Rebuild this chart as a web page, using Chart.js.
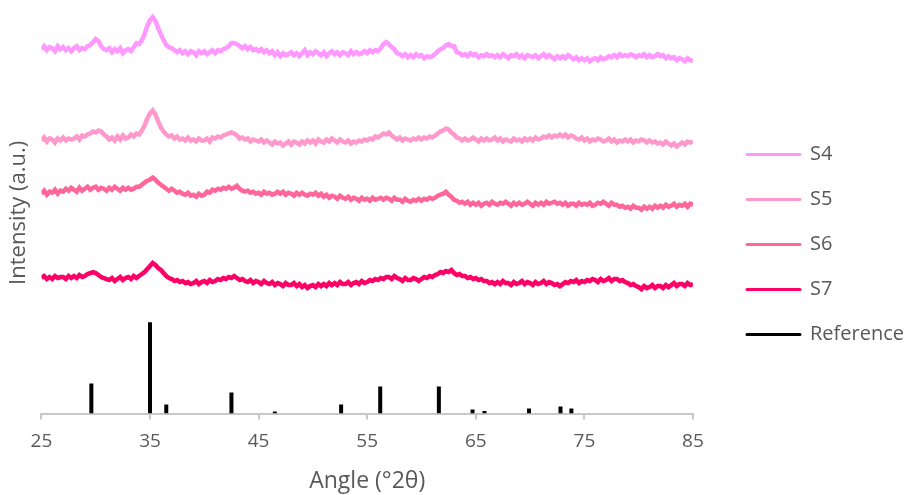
<!DOCTYPE html>
<html>
<head>
<meta charset="utf-8">
<script src="https://cdn.jsdelivr.net/npm/chart.js@4.4.1/dist/chart.umd.min.js"></script>
<style>
  html, body { margin: 0; padding: 0; background: #ffffff; }
  #wrap { width: 906px; height: 495px; position: relative; }
</style>
</head>
<body>
<div id="wrap"><canvas id="c" width="906" height="495"></canvas></div>
<script>
// ---- data (y in relative intensity units) ----
const ANGLE_START = 25;      // first scan angle (°2θ)
const ANGLE_STEP = 0.25;     // scan step (°2θ)
const X_TICKS = [25, 35, 45, 55, 65, 75, 85];
const SERIES_NAMES = ['S4', 'S5', 'S6', 'S7', 'Reference'];

const S4 = [
363,366,362,365, 364,361,366,363, 365,362,364,361, 364,366,362,364, 363,366,367,370,
373,371,366,363, 362,364,360,363, 361,364,359,362, 363,361,365,369, 368,372,378,386,
392,395,391,384, 378,372,367,365, 364,362,360,362, 359,361,358,361, 360,357,361,359,
361,358,360,362, 359,362,361,363, 364,366,369,369, 368,366,364,366, 363,365,362,363,
361,363,360,362, 359,361,357,360, 356,359,357,358, 360,357,359,356, 359,362,357,360,
358,361,359,357, 360,356,359,361, 358,360,357,360, 359,357,361,358, 360,358,359,361,
359,362,360,362, 361,364,368,370, 368,365,363,359, 358,356,358,355, 357,355,358,356,
357,354,356,355, 356,358,361,363, 364,367,368,366, 366,360,359,357, 358,356,359,357,
358,355,357,356, 358,356,357,355, 357,355,358,356, 354,357,356,358, 355,357,354,357,
356,355,357,354, 356,358,355,357, 355,353,356,354, 356,354,357,355, 353,355,352,354,
352,354,351,353, 354,352,355,353, 354,356,355,357, 355,358,356,357, 356,358,357,355,
357,356,358,355, 357,355,356,358, 356,357,354,356, 354,355,352,354, 353,351,354,352,
351];

const S5 = [
272,275,271,274, 273,270,274,272, 275,272,274,273, 274,276,273,277, 276,278,279,281,
280,282,281,278, 276,273,275,272, 276,273,277,274, 275,278,276,279, 278,282,287,294,
299,302,298,291, 285,281,278,276, 277,274,276,273, 274,272,275,272, 273,271,274,272,
272,274,271,275, 274,276,275,277, 278,279,280,279, 277,274,275,273, 274,271,273,272,
271,273,270,272, 270,268,271,269, 270,267,269,271, 268,271,270,268, 271,269,272,270,
272,269,273,271, 270,273,271,274, 272,270,273,271, 270,272,269,271, 270,272,271,273,
272,274,273,276, 275,277,279,278, 280,277,275,273, 275,272,274,273, 272,274,273,275,
273,275,274,276, 275,277,279,281, 282,284,283,280, 278,275,274,272, 274,272,273,275,
273,271,274,272, 274,272,273,275, 272,274,271,273, 272,271,274,272, 273,271,274,272,
274,272,275,273, 274,276,275,277, 275,277,276,278, 276,278,275,277, 276,274,273,275,
272,274,271,273, 272,274,273,271, 272,274,271,273, 270,272,271,273, 271,273,270,272,
271,273,272,270, 272,270,271,269, 270,268,271,269, 267,269,266,268, 270,268,271,270,
271];

const S6 = [
219,222,218,221, 220,223,219,222, 221,224,222,225, 223,221,225,222, 224,226,223,225,
226,223,225,224, 222,225,223,226, 224,222,225,223, 225,223,224,226, 226,228,230,232,
233,235,233,230, 228,226,224,222, 224,222,220,221, 219,218,220,217, 218,216,219,217,
218,221,220,223, 222,224,223,225, 224,226,224,225, 227,224,222,221, 222,220,221,219,
220,218,221,219, 220,218,219,221, 219,221,218,220, 219,217,220,218, 220,218,217,219,
218,220,217,219, 216,218,215,217, 216,214,217,215, 214,216,213,215, 214,212,215,213,
214,212,215,213, 214,215,213,215, 214,212,215,213, 213,211,214,212, 211,213,212,214,
212,214,213,215, 214,215,217,218, 219,221,218,216, 213,212,210,211, 209,211,208,210,
208,210,207,209, 210,208,211,209, 208,210,209,211, 209,207,210,208, 210,208,209,211,
209,207,210,208, 210,208,211,209, 210,211,209,210, 208,210,207,209, 209,207,210,208,
209,208,210,207, 208,210,209,211, 209,207,210,208, 208,206,207,205, 206,204,207,205,
205,203,206,204, 206,204,207,205, 207,205,208,206, 207,209,206,208, 207,209,206,209,
208];

const S7 = [
135,137,134,136, 134,137,135,136, 136,134,137,135, 137,135,138,136, 137,139,140,141,
140,138,136,135, 134,133,135,132, 134,136,133,135, 136,134,137,135, 137,139,141,144,
147,150,148,145, 143,140,137,135, 134,132,133,131, 132,130,131,129, 130,132,129,131,
132,130,133,131, 132,134,133,135, 134,136,135,137, 135,133,134,132, 131,133,130,132,
131,129,132,130, 129,131,128,130, 129,127,130,128, 128,130,127,129, 126,128,125,127,
128,126,129,127, 129,127,130,128, 130,128,131,129, 129,131,128,130, 131,129,132,130,
131,133,132,134, 133,135,134,136, 136,134,137,135, 134,132,135,133, 133,135,134,132,
134,136,135,137, 136,138,139,141, 140,142,141,143, 140,138,139,137, 137,135,136,134,
135,133,134,132, 132,130,131,129, 131,129,132,130, 130,128,131,129, 130,132,129,131,
130,128,131,129, 130,132,129,131, 130,128,129,127, 129,131,130,132, 131,133,130,132,
131,133,132,134, 133,131,134,132, 133,135,132,134, 134,132,133,131, 130,128,129,127,
126,124,127,125, 126,128,125,127, 127,125,128,126, 128,130,127,129, 129,127,130,128,
129];

// Reference pattern: peak positions (°2θ) and relative intensities
const REF_ANGLES  = [29.6, 35.0, 36.5, 42.5, 46.5, 52.6, 56.2, 61.6, 64.7, 65.8, 69.9, 72.8, 73.8];
const REF_HEIGHTS = [30,   91,   9,    21,   2,    9,    27,   27,   4,    2.5,  5,    7,    5];

// ---- build library data from the arrays ----
function toXY(arr) {
  return arr.map((v, i) => ({ x: ANGLE_START + i * ANGLE_STEP, y: v }));
}
function refSticks() {
  const out = [];
  REF_ANGLES.forEach((a, i) => {
    out.push({ x: a, y: 0 });
    out.push({ x: a, y: REF_HEIGHTS[i] });
    out.push({ x: a, y: null });
  });
  return out;
}

const COLORS = ['#FF99FF', '#FF99CC', '#FF6699', '#FF0066', '#000000'];
const FONT = "'Open Sans', 'Noto Sans', sans-serif";
const TXT = '#595959';
const LEG_DX = 29, LEG_DY = -9;

const lineDs = (label, arr, color) => ({
  label, data: toXY(arr), borderColor: color, backgroundColor: color,
  borderWidth: 4.5, pointRadius: 0, tension: 0, fill: false
});

// shift the legend block to the reference's position
const legendShift = {
  id: 'legendShift',
  afterLayout(chart) {
    const lg = chart.legend;
    if (!lg) return;
    lg.left += LEG_DX; lg.right += LEG_DX;
    lg.top += LEG_DY; lg.bottom += LEG_DY;
  }
};

new Chart(document.getElementById('c'), {
  type: 'line',
  plugins: [legendShift],
  data: {
    datasets: [
      lineDs(SERIES_NAMES[0], S4, COLORS[0]),
      lineDs(SERIES_NAMES[1], S5, COLORS[1]),
      lineDs(SERIES_NAMES[2], S6, COLORS[2]),
      lineDs(SERIES_NAMES[3], S7, COLORS[3]),
      {
        label: SERIES_NAMES[4], data: refSticks(), borderColor: COLORS[4],
        backgroundColor: COLORS[4], borderWidth: 4, pointRadius: 0,
        spanGaps: false, borderCapStyle: 'butt', tension: 0
      }
    ]
  },
  options: {
    responsive: false,
    devicePixelRatio: 1,
    animation: false,
    layout: { padding: { top: 12, left: 6, right: 21, bottom: 0 } },
    plugins: {
      tooltip: { enabled: false },
      legend: {
        position: 'right',
        labels: {
          usePointStyle: true,
          pointStyle: 'line',
          pointStyleWidth: 53,
          boxWidth: 53,
          padding: 25,
          color: TXT,
          font: { family: FONT, size: 20 },
          generateLabels(chart) {
            const items = Chart.defaults.plugins.legend.labels.generateLabels(chart);
            items.forEach(it => { it.lineWidth = 3; it.lineCap = 'round'; });
            return items;
          }
        }
      }
    },
    scales: {
      x: {
        type: 'linear',
        min: 25, max: 85,
        afterBuildTicks: (s) => { s.ticks = X_TICKS.map(v => ({ value: v })); },
        ticks: { color: TXT, font: { family: FONT, size: 19 }, padding: 11, maxRotation: 0 },
        grid: { display: true, drawOnChartArea: false, drawTicks: true, tickLength: 6, color: '#c8c8c8', lineWidth: 2 },
        border: { display: true, color: '#c8c8c8', width: 2 },
        title: { display: true, text: 'Angle (°2θ)', color: TXT, font: { family: FONT, size: 23 }, padding: { top: 3, bottom: 0 } }
      },
      y: {
        min: 0, max: 400,
        ticks: { display: false },
        grid: { display: false, drawTicks: false, tickLength: 0 },
        border: { display: false },
        title: { display: true, text: 'Intensity (a.u.)', color: TXT, font: { family: FONT, size: 22 }, padding: { top: 0, bottom: 9 } }
      }
    }
  }
});
</script>
</body>
</html>
